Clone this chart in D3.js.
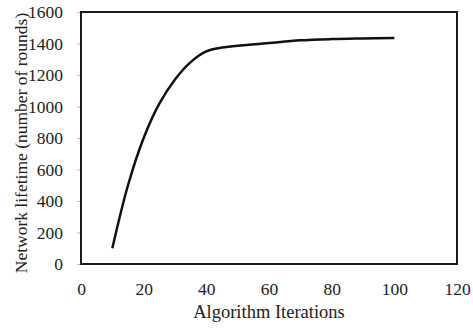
<!DOCTYPE html>
<html>
<head>
<meta charset="utf-8">
<script src="https://cdn.jsdelivr.net/npm/d3@7"></script>
<style>
  body { margin: 0; background: #fff; }
</style>
</head>
<body>
<svg id="chart" width="473" height="329"></svg>
<script>
// values
const iterations = [10, 15, 20, 25, 30, 35, 40, 45, 50, 60, 70, 80, 90, 100];
const lifetime = [100, 500, 800, 1018, 1172, 1282, 1350, 1374, 1385, 1403, 1420, 1428, 1432, 1435];
const xTicks = [0, 20, 40, 60, 80, 100, 120];
const yTicks = [0, 200, 400, 600, 800, 1000, 1200, 1400, 1600];

const FONT = '"Liberation Serif", "Times New Roman", serif';
const svgDimensions = { width: 473, height: 329 };
const margin = { left: 81, right: 16, top: 12, bottom: 65 };
const chartDimensions = {
    width: svgDimensions.width - margin.left - margin.right,
    height: svgDimensions.height - margin.top - margin.bottom
};

const svg = d3.select('#chart');

let xScale = d3.scaleLinear().domain([0, 120]).range([0, chartDimensions.width]);
let yScale = d3.scaleLinear().domain([0, 1600]).range([chartDimensions.height, 0]);

let chartGroup = svg.append("g")
    .attr("transform", `translate(${margin.left}, ${margin.top})`);

// y axis labels + small gray ticks
let y_axis = d3.axisLeft(yScale).tickValues(yTicks).tickFormat(d3.format("d")).tickSize(4).tickPadding(14);
let yG = chartGroup.append("g").call(y_axis)
    .attr("font-family", FONT)
    .attr("font-size", 17.5);
yG.select(".domain").remove();
yG.selectAll("line").attr("stroke", "#bbb");
yG.selectAll("text").attr("fill", "#222");

// x axis labels
let x_axis = d3.axisBottom(xScale).tickValues(xTicks).tickFormat(d3.format("d")).tickSize(0).tickPadding(19);
let xG = chartGroup.append("g")
    .attr("transform", `translate(0, ${chartDimensions.height})`)
    .call(x_axis)
    .attr("font-family", FONT)
    .attr("font-size", 17.5);
xG.select(".domain").remove();
xG.selectAll("text").attr("fill", "#222");

// plot frame
chartGroup.append("rect")
    .attr("x", 0)
    .attr("y", 0)
    .attr("width", chartDimensions.width)
    .attr("height", chartDimensions.height)
    .attr("fill", "none")
    .attr("stroke", "#1a1a1a")
    .attr("stroke-width", 2);

// data line
const points = iterations.map((x, i) => [x, lifetime[i]]);
chartGroup.append("path")
    .datum(points)
    .attr("d", d3.line()
        .x(d => xScale(d[0]))
        .y(d => yScale(d[1]))
        .curve(d3.curveCatmullRom.alpha(0.5)))
    .attr("fill", "none")
    .attr("stroke", "#111")
    .attr("stroke-width", 2.5);

// axis titles
svg.append("text")
    .attr("x", margin.left + chartDimensions.width / 2)
    .attr("y", 318)
    .attr("text-anchor", "middle")
    .attr("font-family", FONT)
    .attr("font-size", 18.5)
    .attr("fill", "#222")
    .text("Algorithm Iterations");

svg.append("text")
    .attr("transform", `translate(27, 143) rotate(-90)`)
    .attr("text-anchor", "middle")
    .attr("font-family", FONT)
    .attr("font-size", 17.5)
    .attr("fill", "#222")
    .text("Network lifetime (number of rounds)");
</script>
</body>
</html>
